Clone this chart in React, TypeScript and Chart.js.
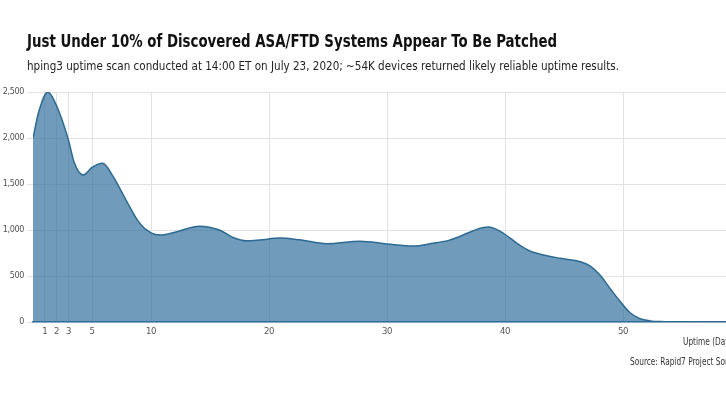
import React, { useEffect, useRef } from "react";
import { Chart, registerables } from "chart.js";
Chart.register(...registerables);

const titleText = "Just Under 10% of Discovered ASA/FTD Systems Appear To Be Patched";
const subtitleText = "hping3 uptime scan conducted at 14:00 ET on July 23, 2020; ~54K devices returned likely reliable uptime results.";
const xAxisTitle = "Uptime (Days)";
const sourceText = "Source: Rapid7 Project Sonar";

const uptimeDays = [0, 0.5, 1.25, 2, 3, 3.5, 4.25, 5, 5.9, 6.8, 7.8, 9, 10, 10.8, 12.2, 14.1, 15.8, 17, 18.1, 19.2, 20.9, 22.6, 24.9, 27.7, 30, 32.2, 33.9, 35.3, 36.8, 37.6, 38.6, 39.6, 40.4, 41.3, 42.1, 43, 44.7, 46.4, 47.2, 48.05, 48.9, 49.75, 50.6, 51.4, 52.3, 53.5, 55, 57, 60];
const deviceCounts = [2000, 2290, 2500, 2350, 1980, 1730, 1598, 1680, 1725, 1580, 1345, 1080, 968, 945, 982, 1042, 1000, 915, 882, 891, 912, 893, 851, 877, 848, 825, 855, 890, 964, 1007, 1032, 985, 915, 830, 772, 736, 692, 655, 609, 510, 365, 225, 100, 38, 12, 4, 2, 1, 1];
const xTickValues = [1, 2, 3, 5, 10, 20, 30, 40, 50];
const yTickValues = [0, 500, 1000, 1500, 2000, 2500];

const FONT = '"DejaVu Sans Condensed", "DejaVu Sans", sans-serif';

const tightText = {
  id: "tightText",
  beforeDraw(c: any) {
    c.ctx.letterSpacing = "-0.4px";
  },
};

export default function App() {
  const ref = useRef<HTMLCanvasElement | null>(null);
  const titleRef = useRef<HTMLDivElement | null>(null);
  const subRef = useRef<HTMLDivElement | null>(null);
  const axRef = useRef<HTMLDivElement | null>(null);
  const srcRef = useRef<HTMLDivElement | null>(null);

  useEffect(() => {
    const t = titleRef.current!;
    const s = subRef.current!;
    const kt = 530 / t.offsetWidth;
    const ks = 592 / s.offsetWidth;
    t.style.transform = `scaleX(${kt})`;
    s.style.transform = `scaleX(${ks})`;
    axRef.current!.style.transform = `scaleX(${ks * 0.84})`;
    srcRef.current!.style.transform = `scaleX(${ks * 0.84})`;

    const canvas = ref.current!;
    const chart = new Chart(canvas, {
      type: "line",
      data: {
        datasets: [
          {
            data: uptimeDays.map((d, i) => ({ x: d, y: deviceCounts[i] })),
            borderColor: "#2d6a92",
            borderWidth: 1.5,
            backgroundColor: "rgba(44,107,154,0.68)",
            fill: "origin",
            pointRadius: 0,
            cubicInterpolationMode: "monotone",
          },
        ],
      },
      plugins: [tightText],
      options: {
        responsive: false,
        maintainAspectRatio: false,
        animation: false,
        layout: { padding: { left: 0, right: 39, top: 92, bottom: 58 } },
        plugins: { legend: { display: false }, tooltip: { enabled: false } },
        scales: {
          x: {
            type: "linear",
            min: 0,
            max: 60,
            afterBuildTicks: (sc: any) => {
              sc.ticks = xTickValues.map((v) => ({ value: v }));
            },
            afterFit: (sc: any) => {
              sc.height = 20;
            },
            grid: { color: "#e2e2e2", drawTicks: false, lineWidth: 1 },
            border: { color: "#3a7399", width: 1.5 },
            ticks: {
              padding: 4,
              color: "#555",
              font: { family: FONT, size: 9.5 },
              maxRotation: 0,
              autoSkip: false,
            },
          },
          y: {
            min: 0,
            max: 2500,
            afterBuildTicks: (sc: any) => {
              sc.ticks = yTickValues.map((v) => ({ value: v }));
            },
            afterFit: (sc: any) => {
              sc.width = 33;
            },
            grid: { color: "#e2e2e2", tickLength: 6, lineWidth: 1 },
            border: { display: false },
            ticks: {
              padding: 3,
              color: "#555",
              font: { family: FONT, size: 9 },
              callback: (v: any) => Number(v).toLocaleString("en-US"),
            },
          },
        },
      },
    } as any);
    return () => chart.destroy();
  }, []);

  const textBase: React.CSSProperties = {
    position: "absolute",
    whiteSpace: "nowrap",
    transformOrigin: "0 50%",
  };

  return (
    <div
      style={{
        position: "fixed",
        left: 0,
        top: 0,
        width: 726,
        height: 400,
        overflow: "hidden",
        background: "#fff",
        fontFamily: FONT,
      }}
    >
      <canvas
        ref={ref}
        width={780}
        height={400}
        style={{ position: "absolute", left: 0, top: 0, width: 780, height: 400 }}
      />
      <div
        ref={titleRef}
        style={{ ...textBase, left: 27, top: 30, fontSize: 17, lineHeight: "22px", fontWeight: 700, color: "#111" }}
      >
        {titleText}
      </div>
      <div
        ref={subRef}
        style={{ ...textBase, left: 27, top: 57, fontSize: 13, lineHeight: "18px", color: "#222" }}
      >
        {subtitleText}
      </div>
      <div
        ref={axRef}
        style={{ ...textBase, left: 683, top: 335, fontSize: 11, lineHeight: "14px", color: "#333" }}
      >
        {xAxisTitle}
      </div>
      <div
        ref={srcRef}
        style={{ ...textBase, left: 630, top: 355, fontSize: 11, lineHeight: "14px", color: "#333" }}
      >
        {sourceText}
      </div>
    </div>
  );
}
